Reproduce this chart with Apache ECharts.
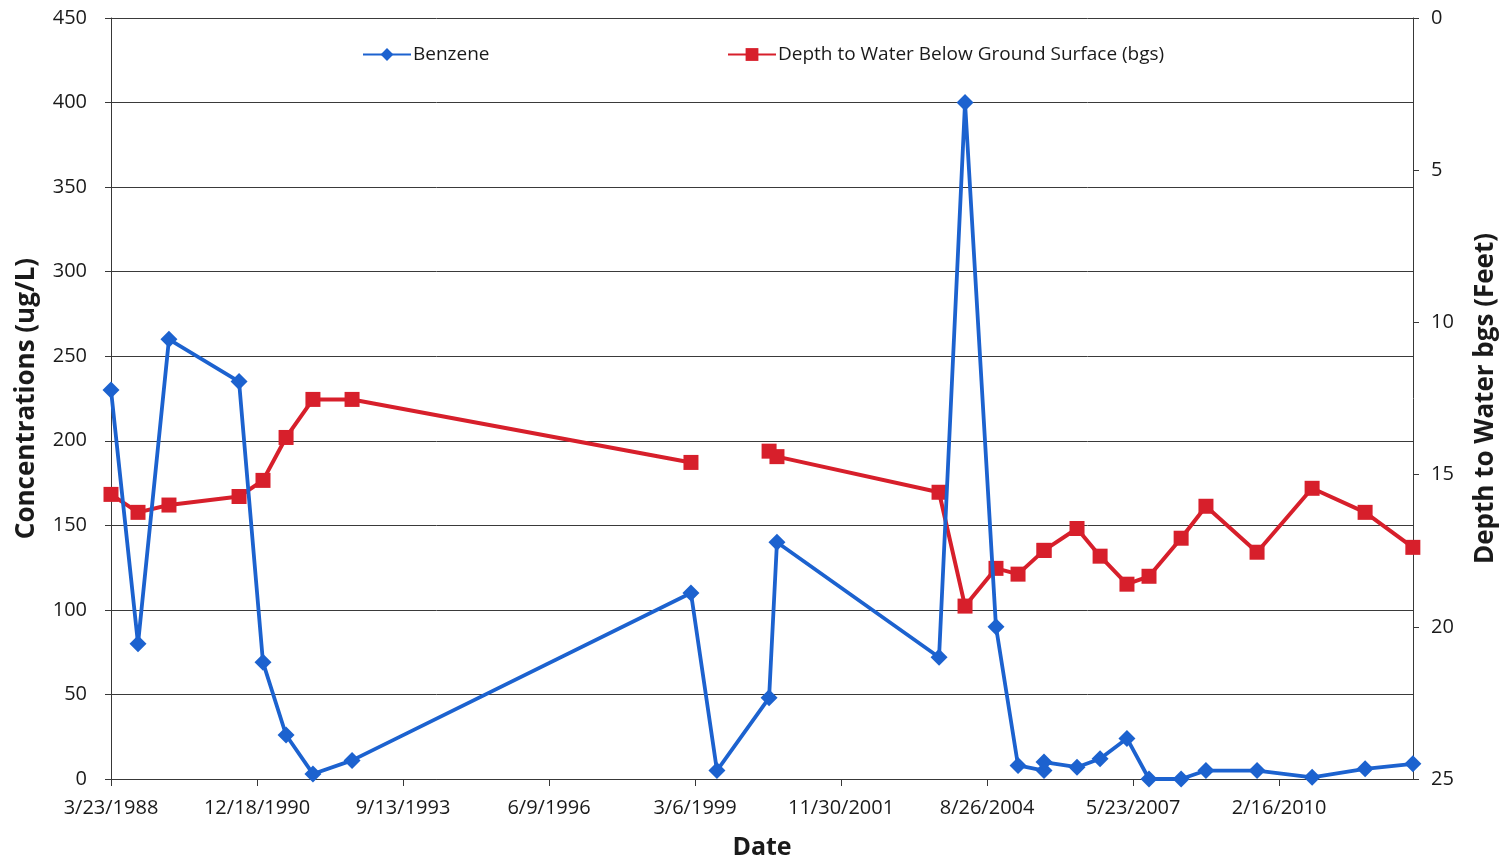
<!DOCTYPE html>
<html>
<head>
<meta charset="utf-8">
<script src="https://cdn.jsdelivr.net/npm/echarts@6/dist/echarts.min.js"></script>
<style>
html,body{margin:0;padding:0;background:#fff;}
#chart{width:1509px;height:865px;}
</style>
</head>
<body>
<div id="chart"></div>
<script>
// ---- data ----
const sampleDates = [
  '1988-03-23','1988-09-24','1989-04-24','1990-08-17','1991-01-28','1991-07-05',
  '1992-01-05','1992-09-29','1999-02-06','1999-08-03','2000-07-25','2000-09-17',
  '2003-10-02','2004-03-28','2004-10-26','2005-03-26','2005-09-20','2005-09-20',
  '2006-05-04','2006-10-09','2007-04-11','2007-09-09','2008-04-16','2008-10-03',
  '2009-09-18','2010-09-30','2011-09-28','2012-08-20'
];
const benzene = [230, 80, 260, 235, 69, 26, 3, 11, 110, 5, 48, 140,
  72, 400, 90, 8, 5, 10, 7, 12, 24, 0, 0, 5, 5, 1, 6, 9];
const depthToWater = [15.65, 16.24, 16.0, 15.72, 15.19, 13.78, 12.53, 12.53, 14.6, null, 14.23, 14.41,
  15.58, 19.32, 18.08, 18.27, 17.49, 17.49, 16.77, 17.68, 18.6, 18.34, 17.09, 16.04,
  17.55, 15.45, 16.24, 17.39];
const xTickLabels = ['3/23/1988','12/18/1990','9/13/1993','6/9/1996','3/6/1999',
  '11/30/2001','8/26/2004','5/23/2007','2/16/2010'];
const leftTicks = [0, 50, 100, 150, 200, 250, 300, 350, 400, 450];
const rightTicks = [0, 5, 10, 15, 20, 25];
const seriesNames = ['Benzene', 'Depth to Water Below Ground Surface (bgs)'];

// ---- helpers ----
const BASE = Date.UTC(1988, 2, 23);
function dayOffset(s) {
  const p = s.split('-').map(Number);
  return Math.round((Date.UTC(p[0], p[1] - 1, p[2]) - BASE) / 86400000);
}
const xs = sampleDates.map(dayOffset);
const benzeneData = xs.map((x, i) => [x, benzene[i]]);
const depthData = xs.map((x, i) => [x, depthToWater[i] === null ? '-' : depthToWater[i]]);

const FONT = '"Open Sans", "Noto Sans", sans-serif';
const TXT = '#1a1a1a';
const AX = '#383838';

const chart = echarts.init(document.getElementById('chart'), null, {renderer: 'canvas'});
chart.setOption({
  animation: false,
  backgroundColor: '#fff',
  textStyle: {fontFamily: FONT},
  grid: {left: 111, right: 96, top: 18, bottom: 85, containLabel: false},
  legend: [
    {data: [seriesNames[0]], left: 362, top: 45, padding: 0, itemWidth: 48, itemHeight: 16,
     textStyle: {fontFamily: FONT, fontSize: 19, color: TXT, padding: [0, 0, 0, -3]}},
    {data: [seriesNames[1]], left: 727, top: 45, padding: 0, itemWidth: 48, itemHeight: 16,
     textStyle: {fontFamily: FONT, fontSize: 19, color: TXT, padding: [0, 0, 0, -3]}}
  ],
  xAxis: {
    type: 'value', min: 0, max: 8917, interval: 1000,
    name: 'Date', nameLocation: 'middle', nameGap: 56,
    nameTextStyle: {fontFamily: FONT, fontSize: 25, fontWeight: 'bold', color: TXT},
    axisLine: {show: true, lineStyle: {color: AX, width: 1}},
    axisTick: {show: true, length: 7, inside: false, lineStyle: {color: AX}},
    splitLine: {show: false},
    axisLabel: {
      fontFamily: FONT, fontSize: 20, color: TXT, margin: 19,
      showMaxLabel: false,
      formatter: v => (v % 1000 === 0 && xTickLabels[v / 1000] !== undefined) ? xTickLabels[v / 1000] : ''
    }
  },
  yAxis: [
    {
      type: 'value', min: leftTicks[0], max: leftTicks[leftTicks.length - 1], interval: 50,
      position: 'left',
      name: 'Concentrations (ug/L)', nameLocation: 'middle', nameGap: 71, nameRotate: 90,
      nameTextStyle: {fontFamily: FONT, fontSize: 26, fontWeight: 'bold', color: TXT},
      axisLine: {show: true, lineStyle: {color: AX, width: 1}},
      axisTick: {show: true, length: 6, inside: false, lineStyle: {color: AX}},
      axisLabel: {fontFamily: FONT, fontSize: 20, color: TXT, margin: 24},
      splitLine: {show: true, lineStyle: {color: '#3a3a3a', width: 1}}
    },
    {
      type: 'value', min: rightTicks[0], max: rightTicks[rightTicks.length - 1], interval: 5,
      inverse: true, position: 'right',
      name: 'Depth to Water bgs (Feet)', nameLocation: 'middle', nameGap: 60, nameRotate: 90,
      nameTextStyle: {fontFamily: FONT, fontSize: 26, fontWeight: 'bold', color: TXT},
      axisLine: {show: true, lineStyle: {color: AX, width: 1}},
      axisTick: {show: true, length: 6, inside: false, lineStyle: {color: AX}},
      axisLabel: {fontFamily: FONT, fontSize: 20, color: TXT, margin: 18},
      splitLine: {show: false}
    }
  ],
  series: [
    {
      name: seriesNames[1], type: 'line', yAxisIndex: 1, data: depthData,
      connectNulls: false, symbol: 'rect', symbolSize: 15, z: 2,
      lineStyle: {color: '#d71f2b', width: 4},
      itemStyle: {color: '#d71f2b'}
    },
    {
      name: seriesNames[0], type: 'line', yAxisIndex: 0, data: benzeneData,
      symbol: 'diamond', symbolSize: 17, z: 3,
      lineStyle: {color: '#1c62cf', width: 3.8},
      itemStyle: {color: '#1c62cf'}
    }
  ]
});
</script>
</body>
</html>
